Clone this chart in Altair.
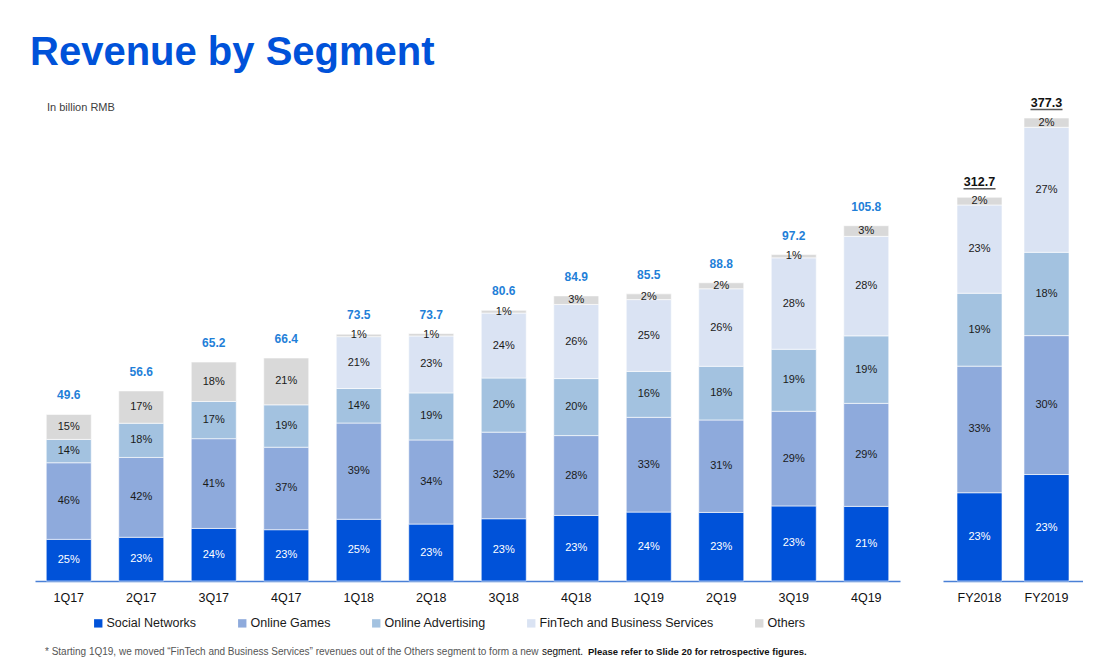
import altair as alt
import pandas as pd

FONT = "Liberation Sans"

quarters = ["1Q17", "2Q17", "3Q17", "4Q17", "1Q18", "2Q18", "3Q18", "4Q18",
            "1Q19", "2Q19", "3Q19", "4Q19"]
q_totals = [49.6, 56.6, 65.2, 66.4, 73.5, 73.7, 80.6, 84.9, 85.5, 88.8, 97.2, 105.8]
years = ["FY2018", "FY2019"]
y_totals = [312.7, 377.3]

segments = ["Social Networks", "Online Games", "Online Advertising",
            "FinTech and Business Services", "Others"]
seg_colors = ["#0052d9", "#8eaadc", "#a3c2e0", "#dae3f3", "#d9d9d9"]

# share of each segment, in percent (None = not reported separately)
q_social = [25, 23, 24, 23, 25, 23, 23, 23, 24, 23, 23, 21]
q_games = [46, 42, 41, 37, 39, 34, 32, 28, 33, 31, 29, 29]
q_ads = [14, 18, 17, 19, 14, 19, 20, 20, 16, 18, 19, 19]
q_fintech = [None, None, None, None, 21, 23, 24, 26, 25, 26, 28, 28]
q_others = [15, 17, 18, 21, 1, 1, 1, 3, 2, 2, 1, 3]

y_social = [23, 23]
y_games = [33, 30]
y_ads = [19, 18]
y_fintech = [23, 27]
y_others = [2, 2]


def build(periods, totals, shares):
    rows = []
    for i, (p, tot) in enumerate(zip(periods, totals)):
        base = 0.0
        for seg, arr in zip(segments, shares):
            pct = arr[i]
            if pct is None:
                continue
            v = tot * pct / 100.0
            rows.append({"period": p, "segment": seg, "y0": base, "y1": base + v,
                         "ymid": base + v / 2, "label": f"{pct}%",
                         "tcolor": "#ffffff" if seg == "Social Networks" else "#1a1a1a"})
            base += v
    return pd.DataFrame(rows)


dfq = build(quarters, q_totals, [q_social, q_games, q_ads, q_fintech, q_others])
dfy = build(years, y_totals, [y_social, y_games, y_ads, y_fintech, y_others])
totq = pd.DataFrame({"period": quarters, "total": q_totals,
                     "label": [f"{t:.1f}" for t in q_totals]})
toty = pd.DataFrame({"period": years, "total": y_totals,
                     "label": [f"{t:.1f}" for t in y_totals]})

AX = dict(title=None, labelAngle=0, ticks=False, domainColor="#4a80d6", domainWidth=1.5,
          labelFontSize=12.5, labelPadding=10, labelColor="#111111", labelFont=FONT, grid=False)

H = 495
LEFT_W = 865
RIGHT_W = 140

color_enc_left = alt.Color(
    "segment:N",
    scale=alt.Scale(domain=segments, range=seg_colors),
    legend=alt.Legend(orient="none", legendX=57, legendY=531, direction="horizontal",
                      title=None, symbolType="square", symbolSize=70, symbolStrokeWidth=0,
                      labelFontSize=12.5, labelFont=FONT, labelColor="#1a1a1a",
                      labelLimit=0, columnPadding=39, labelOffset=2))

xq = alt.X("period:N", sort=quarters,
           scale=alt.Scale(paddingInner=0.379, paddingOuter=0.155), axis=alt.Axis(**AX))
YQ = [0, 147.4]
yq = alt.Y("y0:Q", scale=alt.Scale(domain=YQ), axis=None)

bars_q = alt.Chart(dfq).mark_bar(stroke="white", strokeWidth=0.6).encode(
    x=xq, y=yq, y2="y1:Q", color=color_enc_left)
pct_q = alt.Chart(dfq).mark_text(fontSize=11, font=FONT).encode(
    x=xq, y=alt.Y("ymid:Q", scale=alt.Scale(domain=YQ), axis=None),
    text="label:N", color=alt.Color("tcolor:N", scale=None))
tot_q = alt.Chart(totq).mark_text(fontSize=12, font=FONT, fontWeight="bold",
                                  color="#1f7fd8", dy=-19).encode(
    x=xq, y=alt.Y("total:Q", scale=alt.Scale(domain=YQ), axis=None),
    text="label:N")

unit = alt.Chart(pd.DataFrame({"t": ["In billion RMB"]})).mark_text(
    align="left", fontSize=11, font=FONT, color="#404040").encode(
    x=alt.value(12), y=alt.value(22), text="t:N")

FOOT_Y = H + 71
foot1 = alt.Chart(pd.DataFrame({"t": [
    "* Starting 1Q19, we moved \u201cFinTech and Business Services\u201d revenues out of the Others segment to form a new"]})
).mark_text(align="left", fontSize=10, font=FONT, color="#555555").encode(
    x=alt.value(10), y=alt.value(FOOT_Y), text="t:N")
foot2 = alt.Chart(pd.DataFrame({"t": ["segment."]})).mark_text(
    align="left", fontSize=10, font=FONT, color="#111111").encode(
    x=alt.value(507), y=alt.value(FOOT_Y), text="t:N")
foot3 = alt.Chart(pd.DataFrame({"t": ["Please refer to Slide 20 for retrospective figures."]})
                  ).mark_text(align="left", fontSize=9.5, font=FONT, fontWeight="bold",
                              color="#111111").encode(
    x=alt.value(553), y=alt.value(FOOT_Y), text="t:N")

left = alt.layer(bars_q, pct_q, tot_q, unit, foot1, foot2, foot3).properties(
    width=LEFT_W, height=H)

xy = alt.X("period:N", sort=years,
           scale=alt.Scale(paddingInner=0.328, paddingOuter=0.209), axis=alt.Axis(**AX))
YD = [0, 403.4]
bars_y = alt.Chart(dfy).mark_bar(stroke="white", strokeWidth=0.6).encode(
    x=xy, y=alt.Y("y0:Q", scale=alt.Scale(domain=YD), axis=None), y2="y1:Q",
    color=alt.Color("segment:N", scale=alt.Scale(domain=segments, range=seg_colors),
                    legend=None))
pct_y = alt.Chart(dfy).mark_text(fontSize=11, font=FONT).encode(
    x=xy, y=alt.Y("ymid:Q", scale=alt.Scale(domain=YD), axis=None),
    text="label:N", color=alt.Color("tcolor:N", scale=None))
tot_y = alt.Chart(toty).mark_text(fontSize=12.5, font=FONT, fontWeight="bold",
                                  color="#111111", dy=-15).encode(
    x=xy, y=alt.Y("total:Q", scale=alt.Scale(domain=YD), axis=None), text="label:N")
under_y = alt.Chart(toty).mark_tick(size=32, thickness=1.5, color="#111111",
                                    yOffset=-8.5).encode(
    x=xy, y=alt.Y("total:Q", scale=alt.Scale(domain=YD), axis=None))

right = alt.layer(bars_y, pct_y, tot_y, under_y).properties(width=RIGHT_W, height=H)

chart = alt.hconcat(left, right, spacing=43).properties(
    title=alt.TitleParams("Revenue by Segment", anchor="start", fontSize=40, font=FONT,
                          fontWeight="bold", color="#0052d9", dx=-5, offset=13),
    padding={"left": 30, "top": 33, "right": 0, "bottom": 0},
).configure_view(stroke=None)

chart.save("out.html", embed_options={"renderer": "svg", "actions": False})
